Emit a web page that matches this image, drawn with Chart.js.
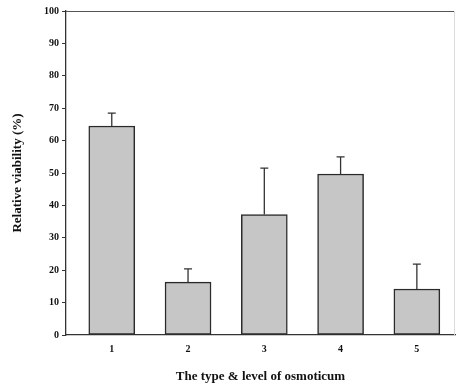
<!DOCTYPE html>
<html>
<head>
<meta charset="utf-8">
<script src="https://cdn.jsdelivr.net/npm/chart.js@4"></script>
<style>
  html, body { margin: 0; padding: 0; background: #fff; }
  #wrap { width: 457px; height: 384px; }
</style>
</head>
<body>
<div id="wrap"><canvas id="myChart" width="457" height="384"></canvas></div>
<script>
// data
const categories = [1, 2, 3, 4, 5];
const viability = [64.5, 16.3, 37.2, 49.7, 14.2];
const errUpper = [4.0, 4.1, 14.3, 5.3, 7.7];
const yTicks = [0, 10, 20, 30, 40, 50, 60, 70, 80, 90, 100];

const serif = '"Liberation Serif", "DejaVu Serif", serif';

// upper error bars + top frame line
const errorBars = {
    id: 'errorBars',
    afterDatasetsDraw(chart) {
        const ctx = chart.ctx;
        const x = chart.scales.x;
        const y = chart.scales.y;
        ctx.save();
        ctx.strokeStyle = '#333';
        ctx.lineWidth = 1.3;
        categories.forEach((c, i) => {
            const px = x.getPixelForValue(c);
            const y0 = y.getPixelForValue(viability[i]);
            const y1 = y.getPixelForValue(viability[i] + errUpper[i]);
            ctx.beginPath();
            ctx.moveTo(px, y0);
            ctx.lineTo(px, y1);
            ctx.moveTo(px - 4, y1);
            ctx.lineTo(px + 4, y1);
            ctx.stroke();
        });
        const a = chart.chartArea;
        ctx.strokeStyle = '#555';
        ctx.lineWidth = 1;
        ctx.beginPath();
        ctx.moveTo(a.left, a.top + 0.5);
        ctx.lineTo(a.right, a.top + 0.5);
        ctx.stroke();
        ctx.strokeStyle = '#ddd';
        ctx.beginPath();
        ctx.moveTo(a.right - 0.5, a.top);
        ctx.lineTo(a.right - 0.5, a.bottom);
        ctx.stroke();
        ctx.restore();
    }
};

const ctx = document.getElementById('myChart');
new Chart(ctx, {
    type: 'bar',
    data: {
        datasets: [{
            data: categories.map((c, i) => ({ x: c, y: viability[i] })),
            backgroundColor: '#c6c6c6',
            borderColor: '#2a2a2a',
            borderWidth: 1.5,
            borderSkipped: false,
            barThickness: 46
        }]
    },
    options: {
        responsive: false,
        animation: false,
        layout: { padding: { left: 0, right: 2, top: 11, bottom: 0 } },
        plugins: { legend: { display: false }, tooltip: { enabled: false } },
        scales: {
            x: {
                type: 'linear',
                offset: false,
                min: 0.4,
                max: 5.5,
                afterBuildTicks: s => { s.ticks = categories.map(v => ({ value: v })); },
                afterFit: s => { s.height = 49; },
                grid: { display: false, drawTicks: false },
                border: { color: '#333', width: 1.3 },
                ticks: {
                    color: '#111',
                    padding: 8,
                    font: { family: serif, size: 10, weight: 'bold' }
                },
                title: {
                    display: true,
                    text: 'The type & level of osmoticum',
                    color: '#111',
                    padding: { top: 12, bottom: 0 },
                    font: { family: serif, size: 13, weight: 'bold' }
                }
            },
            y: {
                min: 0,
                max: 100,
                afterBuildTicks: s => { s.ticks = yTicks.map(v => ({ value: v })); },
                afterFit: s => { s.width = 66; },
                grid: { display: true, drawOnChartArea: false, drawTicks: true, tickLength: 4, tickColor: '#333' },
                border: { color: '#333', width: 1.3 },
                ticks: {
                    color: '#111',
                    padding: 3,
                    font: { family: serif, size: 10, weight: 'bold' }
                },
                title: {
                    display: true,
                    text: 'Relative viability (%)',
                    color: '#111',
                    padding: { top: 10, bottom: 3 },
                    font: { family: serif, size: 13, weight: 'bold' }
                }
            }
        }
    },
    plugins: [errorBars]
});
</script>
</body>
</html>
